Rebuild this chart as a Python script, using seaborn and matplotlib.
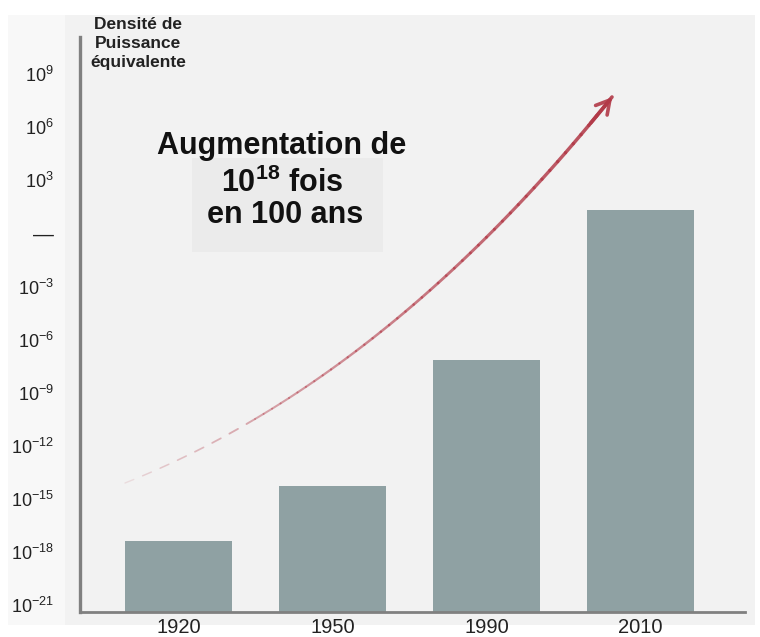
import numpy as np
import pandas as pd
import matplotlib
matplotlib.use("Agg")
import matplotlib.pyplot as plt
from matplotlib.patches import Rectangle
import seaborn as sns

years = ["1920", "1950", "1990", "2010"]
density = [4e-18, 5e-15, 7e-8, 2e1]
ytick_exponents = [-21, -18, -15, -12, -9, -6, -3, 0, 3, 6, 9]

sns.set_theme(style="white")
plt.rcParams["font.family"] = ["Liberation Sans", "DejaVu Sans"]
plt.rcParams["mathtext.fontset"] = "custom"
plt.rcParams["mathtext.rm"] = "Liberation Sans"
plt.rcParams["mathtext.it"] = "Liberation Sans:italic"
plt.rcParams["mathtext.bf"] = "Liberation Sans:bold"

W, H = 760, 637
fig = plt.figure(figsize=(W / 100, H / 100), dpi=100, facecolor="white")

def fx(x):
    return x / W

def fy(y):
    return 1 - y / H

# background panels
fig.add_artist(Rectangle((fx(8), fy(625)), fx(65) - fx(8), fy(15) - fy(625),
                         transform=fig.transFigure, facecolor="#f8f8f8", edgecolor="none", zorder=-10))
fig.add_artist(Rectangle((fx(65), fy(625)), fx(755) - fx(65), fy(15) - fy(625),
                         transform=fig.transFigure, facecolor="#f2f2f2", edgecolor="none", zorder=-10))
fig.add_artist(Rectangle((fx(192), fy(252)), fx(383) - fx(192), fy(158) - fy(252),
                         transform=fig.transFigure, facecolor="#ebebeb", edgecolor="none", zorder=-9))

ax = fig.add_axes([fx(80), fy(612), fx(745) - fx(80), fy(37) - fy(612)])
ax.set_facecolor("none")
ax.set_yscale("log")

df = pd.DataFrame({"year": years, "density": density})
sns.barplot(data=df, x="year", y="density", color="#8fa1a3", saturation=1,
            width=0.695, ax=ax, zorder=2, edgecolor="none", linewidth=0)

ax.set_ylim(10 ** -21.4, 10 ** 11.1)
ax.set_xlim(-0.64, 3.68)
ax.set_xlabel("")
ax.set_ylabel("")

ax.set_yticks([10.0 ** e for e in ytick_exponents])
labels = []
for e in ytick_exponents:
    if e == 0:
        labels.append("—")
    else:
        labels.append(r"$10^{\mathregular{%s}}$" % (str(e).replace("-", "−")))
ax.set_yticklabels(labels)
ax.yaxis.set_minor_locator(matplotlib.ticker.NullLocator())
ax.tick_params(axis="y", length=0, pad=19, labelsize=13, labelcolor="#222222")
ax.tick_params(axis="x", length=0, pad=4, labelsize=14.5, labelcolor="#222222")
for lab in ax.get_yticklabels():
    if lab.get_text() == "—":
        lab.set_fontsize(15)

for s in ["top", "right"]:
    ax.spines[s].set_visible(False)
ax.spines["left"].set_color("#808080")
ax.spines["left"].set_linewidth(2.4)
ax.spines["bottom"].set_color("#808080")
ax.spines["bottom"].set_linewidth(2.0)

# axis title
fig.text(fx(138), fy(17), "Densité de\nPuissance\néquivalente", ha="center", va="top",
         fontsize=12.5, fontweight="bold", color="#222222", linespacing=1.35)

# annotation text
fig.text(fx(282), fy(146), "Augmentation de", ha="center", va="center",
         fontsize=22, fontweight="bold", color="#111111")
fig.text(fx(282), fy(183), r"$\mathbf{10^{18}}$ fois", ha="center", va="center",
         fontsize=22, fontweight="bold", color="#111111")
fig.text(fx(285), fy(215), "en 100 ans", ha="center", va="center",
         fontsize=22, fontweight="bold", color="#111111")

# curved red arrow (decoration)
P0 = np.array([125.0, 483.0])
P1 = np.array([385.0, 380.0])
P2 = np.array([612.0, 97.0])
t = np.linspace(0, 1, 60)
pts = ((1 - t) ** 2)[:, None] * P0 + (2 * (1 - t) * t)[:, None] * P1 + (t ** 2)[:, None] * P2
for i in range(len(pts) - 1):
    if i < 14 and i % 2 == 1:
        continue
    a = 0.12 + 0.78 * (i / (len(pts) - 2)) ** 0.7
    lw = 1.0 + 1.6 * (i / (len(pts) - 2))
    fig.add_artist(plt.Line2D([fx(pts[i, 0]), fx(pts[i + 1, 0])],
                              [fy(pts[i, 1]), fy(pts[i + 1, 1])],
                              transform=fig.transFigure, color="#b23a48",
                              alpha=a, lw=lw, solid_capstyle="round"))
ax.annotate("", xy=(fx(P2[0] + 2), fy(P2[1] - 2)), xycoords="figure fraction",
            xytext=(fx(pts[-4, 0]), fy(pts[-4, 1])), textcoords="figure fraction",
            arrowprops=dict(arrowstyle="->,head_length=0.8,head_width=0.45",
                            color="#b23a48", lw=2.6, alpha=0.9))

fig.savefig("out.png", dpi=100, facecolor="white")
